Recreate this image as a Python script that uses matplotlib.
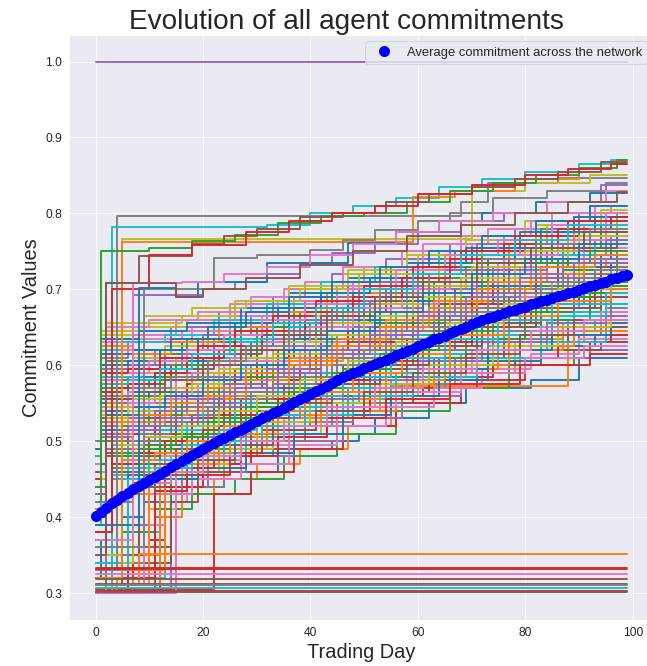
import matplotlib
matplotlib.use('Agg')
import matplotlib.pyplot as plt
import seaborn as sns

sns.set_style('darkgrid')
plt.rcParams['font.family'] = ['Liberation Sans', 'DejaVu Sans']

# trading days and the network average
trading_days = list(range(100))
avg_commitment = [
    0.401, 0.407, 0.412, 0.418, 0.423, 0.428, 0.432, 0.437, 0.441, 0.445,
    0.449, 0.453, 0.457, 0.461, 0.466, 0.470, 0.474, 0.478, 0.482, 0.486,
    0.490, 0.494, 0.497, 0.501, 0.504, 0.508, 0.512, 0.515, 0.519, 0.522,
    0.526, 0.530, 0.533, 0.537, 0.540, 0.544, 0.548, 0.551, 0.555, 0.558,
    0.562, 0.566, 0.569, 0.573, 0.576, 0.580, 0.584, 0.587, 0.590, 0.593,
    0.596, 0.599, 0.602, 0.604, 0.607, 0.610, 0.613, 0.616, 0.619, 0.622,
    0.625, 0.628, 0.631, 0.634, 0.636, 0.639, 0.642, 0.645, 0.648, 0.651,
    0.654, 0.657, 0.660, 0.662, 0.664, 0.666, 0.669, 0.671, 0.673, 0.675,
    0.677, 0.680, 0.682, 0.684, 0.686, 0.688, 0.691, 0.693, 0.695, 0.697,
    0.699, 0.702, 0.704, 0.706, 0.708, 0.710, 0.713, 0.715, 0.717, 0.719,
]

# agent paths as (day, commitment) change points, each value held until the next change
fully_committed = [[(0, 1.0)]]

stuck_agents = [
    [(0, .31), (8, .352)],
    [(0, .333)],
    [(0, .331)],
    [(0, .325)],
    [(0, .318)],
    [(0, .312)],
    [(0, .310)],
    [(0, .306)],
    [(0, .303)],
    [(0, .301)],
]
stuck_colors = ['tab:orange', 'tab:red', 'tab:red', 'tab:pink', 'tab:brown',
                'tab:brown', 'tab:gray', 'tab:cyan', 'tab:red', 'tab:brown']

top_agents = [
    [(0, .33), (4, .797), (68, .815), (73, .84), (86, .847)],
    [(0, .31), (3, .782), (32, .785), (40, .80), (48, .81), (56, .82), (64, .835), (72, .845), (80, .855), (90, .865), (96, .87)],
    [(0, .35), (5, .766), (70, .83), (80, .84), (92, .85)],
    [(0, .32), (5, .762), (59, .822), (67, .83), (78, .845), (90, .86), (97, .865)],
    [(0, .44), (1, .751), (10, .755), (18, .763), (26, .772), (34, .787), (42, .797), (50, .80), (58, .815), (66, .83), (74, .84), (82, .85), (90, .86), (97, .87)],
    [(0, .40), (2, .708), (8, .744), (18, .76), (24, .77), (30, .78), (38, .795), (46, .80), (54, .815), (62, .825), (70, .835), (78, .845), (86, .855), (94, .868)],
    [(0, .38), (3, .70), (10, .745), (18, .758), (28, .775), (36, .79), (44, .80), (52, .81), (60, .825), (70, .838), (80, .85), (88, .858), (96, .865)],
    [(0, .36), (9, .70), (22, .741), (30, .745), (40, .752), (46, .765), (52, .778), (60, .79), (66, .80), (74, .82), (84, .83), (95, .84)],
    [(0, .42), (7, .692), (20, .70), (26, .71), (32, .72), (38, .735), (44, .748), (52, .76), (60, .775), (68, .79), (76, .80), (84, .815), (94, .837)],
    [(0, .39), (8, .702), (15, .69), (19, .71), (32, .735), (47, .761), (56, .775), (64, .79), (72, .80), (82, .815), (92, .827)],
    [(0, .37), (7, .708), (16, .71), (24, .72), (32, .73), (40, .745), (48, .76), (56, .775), (64, .79), (74, .80), (84, .815), (95, .83)],
    [(0, .35), (2, .708), (15, .69), (20, .70), (28, .715), (38, .732), (48, .75), (58, .77), (68, .785), (78, .80), (88, .815), (97, .828)],
]
top_colors = ['tab:gray', 'tab:cyan', 'tab:olive', 'tab:orange', 'tab:green', 'tab:brown',
              'tab:red', 'tab:gray', 'tab:purple', 'tab:blue', 'tab:pink', 'tab:brown']

band_agents = [
    [(0, .45), (1, .56), (6, .58), (12, .60), (19, .62), (27, .64), (36, .67), (47, .70), (58, .72), (71, .75), (85, .78), (94, .80)],
    [(0, .38), (2, .50), (7, .52), (14, .54), (22, .57), (31, .59), (40, .61), (52, .64), (63, .67), (76, .70), (88, .72)],
    [(0, .42), (1, .60), (8, .62), (16, .63), (25, .65), (33, .68), (44, .70), (55, .73), (67, .75), (79, .77), (90, .79)],
    [(0, .33), (4, .47), (10, .49), (18, .52), (27, .55), (35, .57), (46, .60), (57, .63), (68, .66), (80, .68), (92, .70)],
    [(0, .48), (1, .53), (5, .55), (13, .57), (21, .60), (30, .62), (41, .65), (50, .67), (62, .70), (74, .73), (87, .76), (96, .77)],
    [(0, .31), (6, .44), (11, .47), (17, .50), (24, .53), (34, .56), (43, .58), (54, .61), (66, .64), (77, .67), (89, .69)],
    [(0, .40), (2, .62), (9, .63), (18, .65), (28, .67), (37, .69), (48, .71), (60, .74), (70, .76), (83, .78), (95, .80)],
    [(0, .36), (3, .52), (8, .54), (15, .56), (23, .58), (32, .61), (42, .63), (53, .66), (64, .69), (75, .71), (86, .73), (97, .75)],
    [(0, .44), (1, .58), (7, .59), (15, .61), (24, .63), (35, .66), (45, .68), (56, .70), (69, .73), (81, .75), (92, .78)],
    [(0, .32), (9, .45), (14, .48), (20, .50), (29, .53), (38, .55), (49, .58), (60, .61), (72, .63), (84, .65), (93, .66)],
    [(0, .47), (1, .55), (4, .57), (11, .59), (20, .61), (29, .63), (39, .66), (50, .69), (61, .71), (73, .74), (85, .76), (95, .78)],
    [(0, .35), (3, .49), (9, .51), (16, .53), (25, .56), (36, .58), (47, .61), (59, .64), (71, .67), (82, .69), (94, .71)],
    [(0, .41), (2, .57), (10, .58), (19, .60), (30, .63), (41, .66), (51, .68), (63, .71), (76, .73), (88, .76)],
    [(0, .30), (12, .46), (16, .49), (23, .52), (31, .54), (40, .57), (51, .59), (62, .62), (74, .64), (86, .67), (96, .68)],
    [(0, .46), (1, .61), (6, .63), (14, .65), (23, .67), (33, .69), (44, .72), (54, .74), (66, .76), (78, .78), (90, .80)],
    [(0, .39), (2, .48), (8, .50), (15, .53), (22, .55), (32, .58), (42, .61), (54, .63), (65, .66), (77, .69), (90, .72)],
    [(0, .43), (1, .54), (7, .56), (14, .58), (24, .60), (33, .62), (43, .65), (55, .68), (67, .70), (79, .73), (91, .75)],
    [(0, .34), (5, .50), (11, .52), (19, .55), (28, .57), (37, .60), (48, .62), (59, .65), (70, .68), (82, .70), (93, .72)],
    [(0, .49), (1, .64), (9, .65), (17, .66), (26, .68), (36, .70), (46, .72), (58, .75), (69, .77), (80, .79), (92, .81)],
    [(0, .37), (4, .53), (10, .55), (17, .57), (26, .59), (35, .62), (45, .64), (56, .67), (68, .69), (79, .72), (91, .74)],
    [(0, .42), (3, .46), (9, .48), (16, .51), (25, .54), (34, .57), (45, .60), (56, .62), (67, .65), (79, .68), (91, .70)],
    [(0, .31), (7, .43), (13, .46), (21, .49), (30, .52), (39, .55), (50, .57), (61, .60), (73, .62), (85, .64), (95, .65)],
    [(0, .45), (1, .59), (5, .60), (12, .62), (21, .64), (31, .66), (42, .69), (53, .71), (64, .74), (77, .76), (89, .78), (97, .79)],
    [(0, .38), (2, .51), (6, .53), (13, .55), (21, .58), (30, .60), (41, .63), (52, .65), (63, .68), (75, .71), (87, .73)],
    [(0, .44), (1, .56), (8, .57), (17, .59), (27, .62), (37, .64), (49, .67), (60, .70), (72, .72), (84, .75), (95, .77)],
    [(0, .33), (8, .48), (13, .50), (20, .53), (28, .55), (38, .58), (50, .60), (61, .63), (73, .66), (85, .68), (96, .70)],
    [(0, .40), (1, .63), (7, .64), (15, .66), (25, .68), (35, .70), (46, .73), (57, .75), (68, .77), (81, .79), (93, .81)],
    [(0, .36), (3, .45), (9, .47), (17, .49), (26, .52), (36, .54), (47, .57), (58, .60), (70, .62), (83, .64), (94, .66)],
    [(0, .47), (1, .52), (6, .54), (13, .56), (22, .59), (32, .61), (43, .64), (53, .67), (64, .69), (76, .72), (87, .74), (96, .75)],
    [(0, .32), (10, .47), (15, .49), (22, .51), (31, .54), (41, .56), (52, .59), (64, .61), (76, .64), (88, .66)],
    [(0, .43), (2, .60), (8, .61), (16, .63), (26, .65), (36, .67), (47, .70), (59, .72), (71, .74), (83, .77), (94, .79)],
    [(0, .39), (2, .55), (9, .56), (18, .58), (27, .61), (37, .63), (48, .66), (60, .68), (72, .71), (84, .73), (95, .74)],
    [(0, .35), (5, .47), (10, .49), (18, .52), (27, .54), (37, .57), (48, .60), (59, .62), (71, .65), (83, .67), (94, .69)],
    [(0, .48), (1, .57), (6, .58), (14, .60), (23, .62), (32, .65), (43, .67), (54, .70), (66, .72), (77, .75), (89, .77)],
    [(0, .30), (14, .45), (19, .47), (26, .50), (35, .53), (44, .56), (55, .58), (67, .61), (79, .63), (90, .64)],
    [(0, .41), (1, .53), (7, .55), (15, .57), (24, .59), (34, .62), (44, .64), (55, .67), (67, .70), (78, .72), (90, .75)],
    [(0, .46), (2, .65), (10, .66), (19, .67), (29, .69), (39, .71), (50, .73), (61, .76), (73, .78), (85, .80), (96, .81)],
    [(0, .37), (3, .50), (8, .52), (16, .54), (25, .57), (33, .59), (44, .62), (55, .65), (66, .67), (78, .70), (89, .72)],
    [(0, .34), (6, .46), (12, .48), (19, .50), (28, .53), (38, .56), (49, .58), (60, .61), (72, .63), (84, .66), (95, .67)],
    [(0, .44), (1, .62), (5, .63), (13, .64), (22, .66), (32, .68), (42, .71), (52, .73), (64, .75), (76, .77), (88, .79), (97, .80)],
    [(0, .42), (2, .54), (7, .55), (14, .57), (23, .59), (32, .62), (42, .64), (53, .67), (64, .70), (75, .72), (86, .74), (96, .76)],
    [(0, .31), (11, .44), (16, .46), (24, .49), (33, .52), (42, .54), (53, .57), (65, .59), (78, .61), (91, .62)],
    [(0, .49), (1, .58), (8, .60), (17, .62), (27, .64), (38, .67), (49, .69), (60, .72), (71, .74), (83, .76), (94, .78)],
    [(0, .38), (2, .49), (7, .51), (15, .53), (24, .56), (34, .59), (45, .61), (57, .64), (69, .67), (80, .69), (92, .71)],
    [(0, .36), (4, .55), (11, .56), (20, .58), (29, .60), (39, .63), (50, .65), (62, .68), (74, .70), (86, .72), (96, .73)],
    [(0, .45), (1, .51), (5, .53), (12, .55), (21, .57), (31, .60), (41, .63), (51, .65), (62, .68), (74, .71), (86, .73)],
    [(0, .33), (7, .46), (13, .48), (21, .51), (29, .53), (39, .56), (49, .59), (61, .61), (73, .64), (85, .66), (96, .67)],
    [(0, .40), (1, .59), (8, .60), (16, .62), (25, .64), (35, .66), (45, .69), (57, .71), (69, .73), (80, .76), (92, .77)],
    [(0, .47), (2, .56), (9, .57), (17, .60), (26, .62), (36, .64), (47, .67), (58, .70), (70, .72), (82, .74), (93, .76)],
    [(0, .32), (13, .47), (18, .49), (25, .52), (34, .55), (43, .58), (54, .60), (66, .63), (77, .65), (89, .67)],
]

band_agents_2 = [
    [(0, .43), (1, .57), (4, .56), (9, .58), (15, .60), (22, .63), (30, .65), (39, .68), (49, .71), (61, .73), (72, .76), (83, .78), (93, .79)],
    [(0, .36), (2, .49), (6, .51), (11, .53), (19, .56), (28, .58), (38, .60), (49, .63), (60, .66), (71, .68), (83, .70), (94, .72)],
    [(0, .41), (1, .615), (5, .60), (11, .62), (20, .64), (29, .665), (39, .685), (49, .71), (60, .735), (71, .76), (84, .78), (95, .795)],
    [(0, .34), (5, .475), (12, .50), (20, .525), (29, .545), (39, .575), (50, .60), (60, .625), (71, .655), (83, .675), (94, .69)],
    [(0, .50), (1, .545), (6, .565), (14, .585), (23, .605), (32, .63), (42, .655), (52, .68), (64, .705), (75, .735), (88, .755)],
    [(0, .32), (8, .455), (14, .475), (22, .505), (31, .535), (41, .555), (51, .585), (62, .605), (73, .635), (85, .655), (95, .675)],
    [(0, .39), (2, .595), (7, .61), (13, .625), (21, .645), (31, .665), (42, .685), (53, .715), (64, .735), (76, .76), (88, .775), (97, .79)],
    [(0, .37), (3, .535), (9, .545), (17, .565), (26, .59), (35, .615), (45, .64), (56, .665), (67, .685), (79, .715), (90, .735)],
    [(0, .45), (1, .575), (6, .585), (13, .605), (22, .625), (33, .655), (44, .675), (55, .705), (66, .725), (78, .745), (89, .765), (97, .775)],
    [(0, .31), (10, .455), (15, .47), (23, .495), (32, .525), (42, .55), (52, .575), (63, .595), (75, .62), (87, .64)],
    [(0, .46), (1, .545), (5, .56), (12, .585), (21, .605), (30, .635), (40, .655), (51, .685), (62, .705), (73, .735), (85, .755), (94, .77)],
    [(0, .35), (4, .485), (10, .505), (18, .535), (27, .555), (37, .585), (47, .605), (58, .635), (70, .655), (81, .685), (93, .70)],
    [(0, .42), (2, .585), (8, .595), (17, .615), (27, .635), (38, .655), (49, .685), (60, .705), (72, .725), (84, .745), (95, .765)],
    [(0, .30), (11, .455), (17, .48), (24, .51), (33, .535), (43, .56), (53, .585), (64, .61), (76, .63), (88, .65)],
    [(0, .47), (1, .625), (7, .635), (16, .645), (25, .665), (34, .685), (45, .705), (56, .725), (67, .745), (79, .765), (91, .785)],
    [(0, .40), (2, .505), (7, .515), (14, .535), (23, .56), (32, .585), (43, .615), (54, .635), (66, .665), (78, .685), (90, .71)],
    [(0, .44), (1, .535), (6, .55), (14, .57), (23, .595), (33, .615), (44, .64), (55, .665), (66, .69), (78, .715), (90, .735)],
    [(0, .33), (6, .495), (12, .515), (20, .54), (29, .565), (39, .59), (49, .615), (60, .64), (71, .665), (83, .685), (94, .705)],
    [(0, .48), (1, .635), (8, .645), (17, .655), (27, .675), (36, .695), (47, .715), (58, .735), (70, .755), (82, .775), (93, .795)],
    [(0, .38), (3, .525), (9, .535), (17, .555), (26, .58), (36, .605), (46, .625), (57, .655), (68, .675), (80, .705), (91, .725)],
    [(0, .41), (3, .465), (9, .485), (17, .505), (26, .535), (35, .56), (46, .585), (57, .61), (69, .635), (80, .66), (92, .68)],
    [(0, .32), (7, .445), (14, .465), (22, .485), (31, .515), (41, .54), (51, .565), (62, .585), (74, .61), (86, .63), (96, .64)],
    [(0, .46), (1, .595), (6, .605), (13, .615), (22, .635), (32, .655), (43, .68), (54, .70), (65, .725), (77, .745), (89, .765)],
    [(0, .37), (2, .515), (8, .525), (15, .545), (23, .57), (32, .595), (42, .62), (53, .645), (64, .67), (76, .695), (88, .715), (97, .725)],
    [(0, .43), (1, .555), (7, .565), (15, .585), (25, .605), (36, .63), (47, .66), (59, .685), (70, .705), (82, .73), (93, .75)],
    [(0, .34), (9, .485), (14, .495), (21, .52), (30, .545), (40, .57), (51, .595), (62, .62), (74, .645), (86, .665), (96, .68)],
    [(0, .39), (1, .645), (8, .655), (16, .665), (26, .685), (36, .705), (47, .725), (58, .745), (69, .765), (82, .785), (94, .805)],
    [(0, .35), (3, .455), (10, .465), (18, .485), (27, .51), (37, .535), (48, .56), (59, .585), (71, .61), (83, .63), (95, .645)],
    [(0, .48), (1, .515), (5, .535), (12, .555), (21, .575), (31, .60), (42, .625), (52, .655), (63, .675), (75, .70), (87, .725), (96, .735)],
    [(0, .31), (12, .465), (16, .48), (23, .505), (32, .53), (42, .555), (53, .58), (65, .60), (77, .625), (89, .645)],
    [(0, .44), (2, .605), (9, .615), (17, .635), (27, .655), (37, .675), (48, .695), (59, .715), (71, .735), (83, .755), (94, .775)],
    [(0, .40), (2, .545), (8, .555), (17, .575), (26, .595), (36, .62), (47, .645), (59, .67), (70, .695), (82, .715), (94, .735)],
    [(0, .36), (5, .475), (11, .485), (19, .505), (28, .53), (38, .555), (49, .58), (60, .605), (72, .63), (84, .655), (95, .665)],
    [(0, .49), (1, .565), (5, .575), (13, .595), (22, .615), (31, .64), (42, .665), (53, .685), (65, .71), (76, .735), (88, .755), (97, .765)],
    [(0, .30), (15, .455), (20, .475), (27, .495), (36, .52), (45, .545), (56, .565), (68, .59), (80, .61), (91, .625)],
    [(0, .42), (1, .525), (8, .545), (16, .565), (25, .585), (35, .61), (45, .635), (56, .66), (68, .685), (79, .705), (91, .725)],
    [(0, .45), (2, .655), (9, .665), (18, .675), (28, .685), (38, .70), (49, .72), (60, .745), (72, .765), (84, .785), (95, .80)],
    [(0, .38), (3, .495), (9, .505), (17, .525), (26, .55), (34, .575), (45, .60), (56, .625), (67, .655), (79, .675), (90, .695)],
    [(0, .33), (6, .455), (13, .475), (20, .495), (29, .52), (39, .545), (50, .57), (61, .595), (73, .62), (85, .64), (96, .655)],
    [(0, .43), (1, .625), (6, .615), (14, .63), (23, .65), (33, .67), (43, .695), (53, .715), (65, .74), (77, .76), (89, .78)],
    [(0, .41), (2, .535), (8, .545), (15, .565), (24, .585), (33, .61), (43, .635), (54, .655), (65, .685), (76, .705), (87, .725), (97, .745)],
    [(0, .32), (11, .435), (17, .455), (25, .48), (34, .505), (43, .53), (54, .555), (66, .575), (79, .60), (92, .615)],
    [(0, .50), (1, .585), (7, .595), (16, .615), (26, .635), (37, .66), (48, .68), (59, .705), (70, .725), (82, .745), (93, .765)],
    [(0, .37), (2, .485), (8, .495), (16, .52), (25, .545), (35, .575), (46, .595), (58, .625), (70, .655), (81, .675), (93, .695)],
    [(0, .35), (4, .545), (10, .555), (19, .575), (28, .595), (38, .62), (49, .645), (61, .67), (73, .69), (85, .71), (96, .72)],
    [(0, .46), (1, .505), (6, .52), (13, .545), (22, .565), (32, .59), (42, .62), (52, .645), (63, .67), (75, .695), (87, .715)],
    [(0, .34), (7, .465), (14, .475), (22, .50), (30, .525), (40, .55), (50, .575), (62, .60), (74, .625), (86, .65), (96, .66)],
    [(0, .39), (1, .585), (9, .595), (17, .61), (26, .63), (36, .65), (46, .675), (58, .70), (70, .72), (81, .745), (93, .76)],
    [(0, .47), (2, .555), (10, .565), (18, .59), (27, .61), (37, .635), (48, .66), (59, .685), (71, .705), (83, .73), (94, .745)],
    [(0, .33), (13, .475), (18, .485), (25, .51), (34, .535), (43, .565), (54, .59), (66, .615), (77, .64), (89, .66)],
]

band_agents_3 = [
    [(0, .42), (1, .50), (5, .52), (10, .535), (16, .55), (23, .57), (29, .59), (36, .61), (44, .635), (53, .66), (62, .69), (72, .71), (82, .735), (92, .75)],
    [(0, .37), (3, .47), (8, .485), (13, .50), (20, .515), (27, .535), (34, .555), (42, .58), (51, .605), (60, .63), (70, .66), (80, .685), (90, .705)],
    [(0, .44), (1, .52), (4, .53), (9, .55), (15, .565), (21, .585), (28, .60), (35, .625), (43, .65), (52, .675), (61, .70), (71, .725), (81, .75), (91, .77)],
    [(0, .35), (4, .46), (9, .47), (15, .49), (21, .51), (28, .53), (36, .55), (44, .575), (53, .60), (62, .625), (72, .65), (82, .675), (92, .69)],
    [(0, .46), (1, .545), (6, .55), (11, .57), (18, .59), (25, .61), (32, .63), (40, .65), (48, .675), (57, .70), (66, .72), (76, .745), (86, .765), (95, .785)],
    [(0, .39), (2, .49), (7, .50), (12, .52), (19, .54), (26, .555), (33, .575), (41, .60), (50, .62), (59, .65), (68, .675), (78, .70), (88, .72), (97, .73)],
    [(0, .41), (2, .53), (6, .54), (12, .56), (18, .575), (25, .595), (33, .615), (41, .64), (50, .665), (59, .69), (68, .715), (78, .74), (88, .76)],
    [(0, .33), (6, .45), (11, .465), (17, .48), (24, .50), (31, .52), (39, .545), (47, .57), (56, .59), (65, .615), (75, .64), (85, .665), (95, .68)],
    [(0, .48), (1, .60), (6, .605), (12, .62), (19, .635), (26, .655), (34, .675), (42, .695), (51, .715), (60, .735), (69, .755), (79, .775), (89, .795)],
    [(0, .40), (2, .51), (7, .525), (13, .54), (20, .56), (28, .58), (36, .60), (44, .625), (53, .65), (62, .675), (71, .70), (81, .72), (91, .74)],
    [(0, .36), (4, .48), (9, .495), (15, .51), (22, .53), (30, .55), (38, .57), (46, .595), (55, .62), (64, .645), (74, .67), (84, .695), (94, .71)],
    [(0, .45), (1, .565), (5, .575), (11, .59), (17, .61), (24, .625), (31, .645), (39, .67), (48, .69), (57, .715), (66, .74), (76, .76), (86, .78), (96, .795)],
    [(0, .43), (1, .51), (6, .52), (11, .54), (17, .555), (24, .575), (32, .595), (40, .62), (49, .645), (58, .67), (67, .695), (77, .72), (87, .74)],
    [(0, .32), (8, .44), (13, .455), (19, .475), (26, .495), (33, .515), (41, .54), (50, .565), (59, .59), (69, .615), (79, .64), (89, .66)],
    [(0, .47), (1, .58), (5, .59), (10, .605), (17, .62), (24, .64), (31, .66), (39, .68), (47, .70), (56, .725), (65, .745), (75, .765), (85, .785), (95, .80)],
    [(0, .38), (3, .50), (8, .51), (14, .525), (21, .545), (29, .565), (37, .585), (45, .61), (54, .635), (63, .66), (73, .685), (83, .71), (93, .725)],
    [(0, .42), (2, .545), (7, .555), (13, .57), (20, .59), (27, .61), (35, .63), (43, .655), (52, .68), (61, .705), (70, .73), (80, .75), (90, .77)],
    [(0, .34), (5, .465), (10, .475), (16, .495), (23, .515), (30, .535), (38, .56), (46, .585), (55, .61), (65, .635), (75, .66), (85, .68), (95, .695)],
    [(0, .49), (1, .615), (7, .62), (14, .635), (21, .65), (28, .67), (36, .69), (44, .71), (53, .73), (62, .75), (72, .77), (82, .79), (92, .81)],
    [(0, .41), (2, .525), (8, .535), (14, .55), (21, .57), (28, .59), (36, .61), (45, .635), (54, .66), (63, .685), (73, .71), (83, .73), (93, .745)],
    [(0, .37), (3, .485), (8, .49), (14, .505), (21, .525), (28, .545), (36, .565), (44, .59), (53, .615), (62, .64), (72, .665), (82, .69), (92, .705)],
    [(0, .44), (1, .59), (6, .595), (12, .61), (19, .625), (26, .645), (33, .665), (41, .685), (50, .705), (59, .73), (68, .75), (78, .77), (88, .79)],
    [(0, .39), (2, .505), (6, .515), (12, .53), (19, .55), (26, .57), (34, .59), (42, .615), (51, .64), (60, .665), (69, .69), (79, .715), (89, .735)],
    [(0, .46), (1, .555), (7, .565), (13, .58), (20, .60), (27, .62), (35, .64), (43, .665), (52, .69), (61, .71), (71, .735), (81, .755), (91, .775)],
    [(0, .31), (9, .445), (14, .46), (20, .48), (27, .50), (35, .52), (43, .545), (52, .57), (61, .595), (71, .62), (81, .645), (91, .66)],
    [(0, .43), (2, .56), (7, .57), (14, .585), (21, .605), (28, .625), (36, .645), (44, .67), (53, .695), (62, .72), (72, .74), (82, .76), (92, .78)],
    [(0, .36), (4, .495), (9, .505), (16, .52), (23, .54), (30, .56), (38, .58), (47, .605), (56, .63), (66, .655), (76, .68), (86, .70), (96, .715)],
    [(0, .48), (1, .575), (6, .58), (12, .595), (18, .615), (25, .635), (33, .655), (41, .675), (50, .70), (59, .72), (68, .745), (78, .765), (88, .785)],
    [(0, .40), (2, .535), (7, .545), (13, .56), (20, .58), (27, .60), (35, .62), (43, .645), (52, .67), (61, .695), (70, .72), (80, .74), (90, .76)],
    [(0, .35), (5, .475), (11, .485), (17, .50), (24, .52), (31, .54), (39, .565), (48, .59), (57, .615), (66, .64), (76, .665), (86, .685), (96, .70)],
]

lagging_agents = [
    [(0, .33), (9, .42), (16, .44), (24, .46), (34, .49), (44, .50), (49, .51), (52, .53), (62, .55), (69, .57), (81, .58), (90, .61)],
    [(0, .31), (15, .43), (22, .45), (30, .47), (38, .49), (47, .52), (55, .573), (88, .64), (95, .65)],
    [(0, .34), (12, .41), (18, .43), (26, .45), (35, .48), (45, .51), (56, .54), (66, .57), (77, .60), (89, .62)],
    [(0, .305), (22, .43), (29, .46), (37, .49), (46, .52), (56, .55), (68, .58), (80, .61), (92, .63)],
    [(0, .31), (15, .44), (21, .46), (28, .48), (37, .50), (46, .53), (57, .56), (68, .59), (80, .61), (92, .62)],
    [(0, .34), (14, .45), (20, .47), (27, .50), (36, .52), (45, .55), (55, .58), (66, .60), (78, .62), (90, .63)],
    [(0, .30), (3, .36), (8, .39), (13, .42), (17, .47), (25, .50), (35, .53), (46, .56), (58, .59), (70, .62), (83, .65), (94, .67)],
    [(0, .32), (5, .38), (11, .40), (16, .44), (24, .48), (33, .51), (43, .54), (54, .57), (65, .60), (77, .63), (89, .65)],
    [(0, .30), (2, .33), (6, .36), (10, .41), (15, .46), (23, .49), (32, .52), (42, .55), (53, .58), (65, .61), (77, .64), (89, .66)],
    [(0, .31), (3, .35), (7, .38), (12, .43), (18, .47), (26, .50), (36, .53), (47, .56), (59, .59), (71, .62), (84, .64), (95, .66)],
    [(0, .32), (1, .37), (5, .40), (9, .44), (14, .47), (22, .50), (31, .52), (41, .55), (52, .58), (63, .61), (75, .63), (88, .65)],
    [(0, .30), (4, .32), (8, .35), (12, .40), (16, .45), (24, .48), (34, .51), (45, .54), (56, .57), (67, .60), (79, .63), (91, .65)],
    [(0, .31), (2, .34), (5, .38), (11, .41), (14, .46), (21, .49), (30, .52), (40, .55), (51, .58), (62, .61), (74, .64), (86, .66)],
    [(0, .30), (6, .33), (10, .37), (13, .44), (20, .47), (29, .50), (39, .53), (50, .56), (61, .59), (73, .62), (85, .64), (96, .65)],
    [(0, .33), (2, .36), (7, .39), (10, .43), (16, .46), (25, .49), (34, .52), (44, .55), (55, .58), (67, .61), (79, .63), (90, .64)],
    [(0, .31), (5, .35), (9, .36), (14, .42), (19, .46), (27, .49), (37, .52), (48, .55), (59, .57), (71, .60), (83, .62), (94, .63)],
    [(0, .32), (10, .43), (18, .45), (27, .47), (36, .495), (45, .52), (54, .545), (63, .57), (72, .595), (81, .615), (90, .635)],
    [(0, .35), (6, .44), (13, .46), (21, .48), (30, .50), (39, .525), (48, .55), (57, .575), (66, .60), (75, .62), (85, .64), (95, .655)],
    [(0, .33), (8, .45), (16, .47), (25, .49), (33, .51), (42, .535), (51, .56), (60, .585), (69, .605), (78, .63), (88, .65)],
    [(0, .36), (4, .45), (11, .465), (19, .485), (28, .505), (37, .53), (46, .555), (55, .58), (64, .60), (73, .625), (83, .645), (93, .66)],
    [(0, .31), (12, .45), (19, .465), (28, .485), (37, .51), (46, .535), (55, .56), (64, .58), (73, .605), (83, .625), (93, .64)],
    [(0, .34), (7, .46), (14, .475), (23, .495), (32, .52), (41, .545), (50, .565), (59, .59), (68, .615), (77, .635), (87, .655), (96, .665)],
]


def draw_agent(ax, path, color=None):
    # hold each value until the next change, through to the last trading day
    d = [p[0] for p in path] + [trading_days[-1]]
    v = [p[1] for p in path] + [path[-1][1]]
    ax.plot(d, v, drawstyle='steps-post', linewidth=1.9, color=color)


fig = plt.figure(figsize=(647/72, 666/72), dpi=72)
ax = fig.add_axes([0.1066, 0.0697, 0.9042, 0.8778])

for path in band_agents + lagging_agents + band_agents_2 + band_agents_3:
    draw_agent(ax, path)
for path, c in zip(top_agents, top_colors):
    draw_agent(ax, path, c)
for path, c in zip(stuck_agents, stuck_colors):
    draw_agent(ax, path, c)
for path in fully_committed:
    draw_agent(ax, path, 'tab:purple')

ax.plot(trading_days, avg_commitment, 'bo', markersize=10,
        label='Average commitment across the network')

ax.set_xlim(-4.95, 103.95)
ax.set_ylim(0.265, 1.035)
ax.tick_params(labelsize=12)
fig.text(346/647, 1 - 29/666, 'Evolution of all agent commitments', fontsize=28,
         ha='center', va='baseline', color='.15')
ax.set_xlabel('Trading Day', fontsize=20)
ax.set_ylabel('Commitment Values', fontsize=20)
ax.legend(loc='upper right', fontsize=13)

fig.savefig('out.png', dpi=72)
